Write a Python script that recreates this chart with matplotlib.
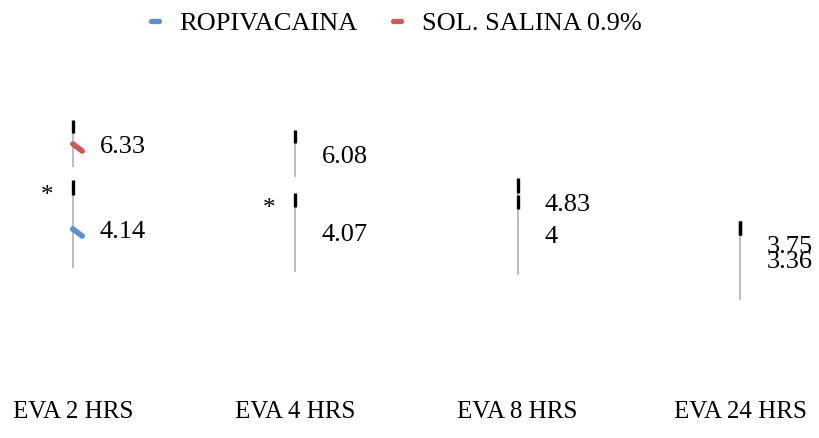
import numpy as np
import matplotlib.pyplot as plt
import matplotlib.transforms as mtransforms
from matplotlib.lines import Line2D
from matplotlib.markers import MarkerStyle

# Data
categories = ['EVA 2 HRS', 'EVA 4 HRS', 'EVA 8 HRS', 'EVA 24 HRS']
ropi = [4.14, 4.07, 4.0, 3.36]
salina = [6.33, 6.08, 4.83, 3.75]

# error bars (up / down) and the dark upper piece
ropi_up = [0.95, 0.71, 0.73, 0.71]
ropi_down = [0.93, 0.97, 0.97, 0.97]
ropi_tip = [0.38, 0.37, 0.36, 0.36]
sal_up = [0.36, 0.35, 0.32, 0.32]
sal_down = [0.52, 0.52, 0.52, 0.54]
sal_tip = [0.34, 0.34, 0.38, 0.36]

signif = [True, True, False, False]

blue = '#5b8fcd'
red = '#cc5a55'
font = 'Liberation Serif'
plt.rcParams['font.family'] = font

W, H = 819, 438
fig = plt.figure(figsize=(W / 100, H / 100), dpi=100)

# pixel layout
px_unit = 38.8
y0_px = 392.6
top_px = 60
x0_px = 73
dx_px = 222.33
ax = fig.add_axes([0, (H - y0_px) / H, 1, (y0_px - top_px) / H])
ax.set_xlim(-x0_px / dx_px, (W - x0_px) / dx_px)
ax.set_ylim(0, (y0_px - top_px) / px_unit)
for s in ax.spines.values():
    s.set_visible(False)
ax.set_yticks([])
x = np.arange(len(categories))
ax.set_xticks(x)
ax.set_xticklabels(categories, fontsize=18)
ax.tick_params(axis='x', length=0, pad=6)

series = [
    (ropi, ropi_up, ropi_down, ropi_tip, blue),
    (salina, sal_up, sal_down, sal_tip, red),
]
for vals, up, down, tip, col in series:
    v = np.array(vals)
    hi = v + np.array(up)
    lo = v - np.array(down)
    ax.vlines(x, lo, hi, color='#bdbdbd', lw=1.4, zorder=1)
    ax.vlines(x, hi, hi + np.array(tip), color='black', lw=2.4, zorder=2)

# the short coloured strokes at the first time point (sit a bit right of the bar)
shift = ax.transData + mtransforms.ScaledTranslation(4 / 100, 0, fig.dpi_scale_trans)
for vals, col in [(ropi, blue), (salina, red)]:
    ax.plot(x[:1], vals[:1], linestyle='none',
            marker=MarkerStyle((2, 0, 53), capstyle='round'),
            markersize=8.5, markeredgewidth=4, color=col, zorder=3,
            transform=shift)

# data labels
for vals in [ropi, salina]:
    for xi, v in zip(x, vals):
        ax.annotate(f'{v:g}', (xi, v), xytext=(19, 0), textcoords='offset points',
                    ha='left', va='center', fontsize=19)

# significance marks
for xi, s, v, up in zip(x, signif, ropi, ropi_up):
    if s:
        ax.annotate('*', (xi, v + up), xytext=(-19, -1), textcoords='offset points',
                    ha='center', va='center', fontsize=18)

handles = [
    Line2D([], [], linestyle='none', marker=MarkerStyle('_', capstyle='round'),
           markersize=6, markeredgewidth=3.8, color=blue),
    Line2D([], [], linestyle='none', marker=MarkerStyle('_', capstyle='round'),
           markersize=6, markeredgewidth=3.8, color=red),
]
fig.legend(handles, ['ROPIVACAINA', 'SOL. SALINA 0.9%'], loc='center',
           bbox_to_anchor=(0.482, 1 - 23 / H), ncol=2, frameon=False, fontsize=19,
           handlelength=0.5, handletextpad=0.68, columnspacing=1.25)

fig.savefig('out.png', dpi=100)
